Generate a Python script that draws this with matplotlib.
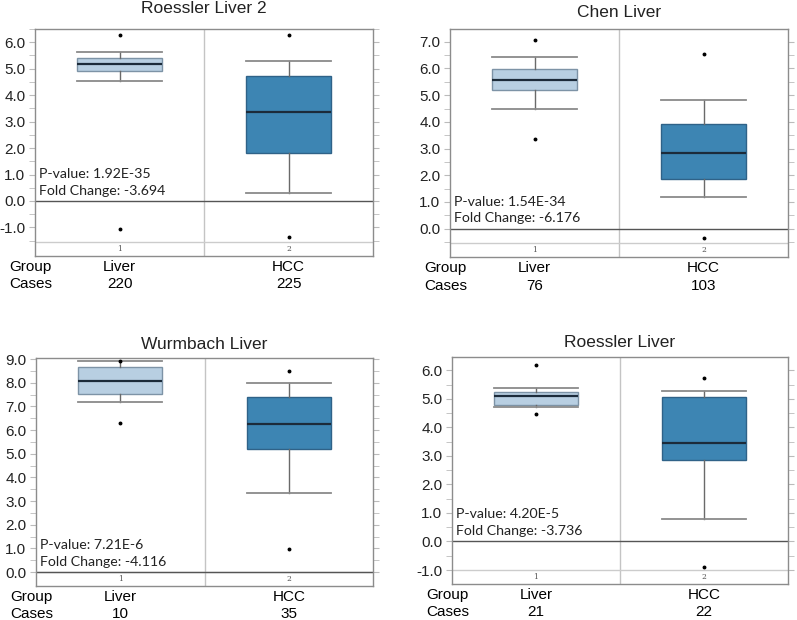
import matplotlib
matplotlib.use("Agg")
import matplotlib.pyplot as plt
import matplotlib.transforms as mtransforms
import numpy as np

plt.rcParams['font.family'] = ['Liberation Sans', 'DejaVu Sans']

# data
datasets = ["Roessler Liver 2", "Chen Liver", "Wurmbach Liver", "Roessler Liver"]
groups = ["Liver", "HCC"]
cases = [[220, 225], [76, 103], [10, 35], [21, 22]]
pvalues = ["1.92E-35", "1.54E-34", "7.21E-6", "4.20E-5"]
fold_changes = ["-3.694", "-6.176", "-4.116", "-3.736"]

medians = [[5.17, 3.38], [5.55, 2.82], [8.07, 6.24], [5.09, 3.44]]
q1 = [[4.92, 1.83], [5.18, 1.87], [7.53, 5.21], [4.79, 2.87]]
q3 = [[5.42, 4.72], [5.99, 3.91], [8.68, 7.39], [5.26, 5.05]]
whisker_lo = [[4.55, 0.29], [4.50, 1.17], [7.19, 3.33], [4.73, 0.80]]
whisker_hi = [[5.63, 5.29], [6.44, 4.81], [8.93, 8.01], [5.38, 5.28]]
outliers = [
    [[6.26, -1.06], [6.26, -1.35]],
    [[7.06, 3.34], [6.53, -0.34]],
    [[8.93, 6.31], [8.49, 0.99]],
    [[6.19, 4.47], [5.74, -0.89]],
]

# axis range of the plotting area (top, bottom before the group-number strip)
y_top = [6.5, 7.48, 9.05, 6.47]
y_floor = [-1.55, -0.54, 0.0, -1.0]

W, H = 797, 620
# axes boxes in pixels: left, top, right, bottom
boxes_px = [(35, 29, 373, 256), (450, 29, 788, 257), (36, 358, 373, 586), (452, 357, 788, 584)]
title_pad = [11.5, 8.5, 6.5, 7.5]

fill_colors = ["#b8cfe2", "#3d85b3"]
edge_colors = ["#7d93a6", "#2f6288"]
strip_px = 14

fig = plt.figure(figsize=(W / 100, H / 100), dpi=100)

for i in range(4):
    l, t, r, b = boxes_px[i]
    ax = fig.add_axes([l / W, 1 - b / H, (r - l) / W, (b - t) / H])
    h_px = b - t
    top = y_top[i]
    floor = y_floor[i]
    s = strip_px * (top - floor) / (h_px - strip_px)
    ax.set_ylim(floor - s, top)
    ax.set_xlim(0.5, 2.5)

    stats = []
    for g in range(2):
        stats.append({
            "med": medians[i][g], "q1": q1[i][g], "q3": q3[i][g],
            "whislo": whisker_lo[i][g], "whishi": whisker_hi[i][g],
            "fliers": outliers[i][g], "label": groups[g],
        })
    res = ax.bxp(stats, positions=[1, 2], widths=0.5, patch_artist=True,
                 capwidths=0.5,
                 medianprops=dict(color="#1c2b3a", lw=1.6),
                 whiskerprops=dict(color="#6a6a6a", lw=1),
                 capprops=dict(color="#8a8a8a", lw=1.3),
                 flierprops=dict(marker="o", markersize=1.8, markerfacecolor="black",
                                 markeredgecolor="black"))
    for g, patch in enumerate(res["boxes"]):
        patch.set_facecolor(fill_colors[g])
        patch.set_edgecolor(edge_colors[g])
        patch.set_linewidth(1)

    # separators and reference lines
    ax.axvline(1.5, color="#c4c4c4", lw=1, zorder=0)
    ax.axhline(floor, color="#cccccc", lw=1, zorder=0)
    ax.axhline(0, color="#555555", lw=1, zorder=1)

    for sp in ax.spines.values():
        sp.set_color("#8c8c8c")
        sp.set_linewidth(1)

    major = np.arange(np.ceil(floor), np.floor(top) + 1) + 0.0
    ax.set_yticks(major)
    ax.set_yticklabels(["%.1f" % v for v in major], fontsize=11, color="#222222")
    ax.set_yticks(np.arange(np.ceil(floor * 2) / 2, top + 0.01, 0.5), minor=True)
    ax.tick_params(axis="y", which="both", direction="out", length=4, color="#bbbbbb",
                   right=True, labelright=False, pad=3)
    ax.set_xticks([])

    ax.set_title(datasets[i], fontsize=12.5, color="#222222", pad=title_pad[i])

    # group index strip
    for g in range(2):
        ax.text(g + 1, floor - s / 2, str(g + 1), ha="center", va="center",
                fontsize=5.5, color="#555555", family="DejaVu Serif")

    # p-value text just above the zero line
    tr = mtransforms.blended_transform_factory(ax.transAxes, ax.transData)
    ax.annotate("P-value: " + pvalues[i], xy=(0.012, 0), xycoords=tr,
                xytext=(0, 19.5), textcoords="offset points", va="center",
                fontsize=10.2, family="Lato", color="#222222")
    ax.annotate("Fold Change: " + fold_changes[i], xy=(0.012, 0), xycoords=tr,
                xytext=(0, 7.5), textcoords="offset points", va="center",
                fontsize=10.2, family="Lato", color="#222222")

    # group / cases rows under the axes
    xt = ax.get_xaxis_transform()
    ax.text(0.6, -0.05, "Group", transform=xt, ha="right", va="center", fontsize=11)
    ax.text(0.6, -0.125, "Cases", transform=xt, ha="right", va="center", fontsize=11)
    for g in range(2):
        ax.text(g + 1, -0.05, groups[g], transform=xt, ha="center", va="center", fontsize=11)
        ax.text(g + 1, -0.125, str(cases[i][g]), transform=xt, ha="center", va="center",
                fontsize=11)

fig.savefig("out.png", dpi=100)
